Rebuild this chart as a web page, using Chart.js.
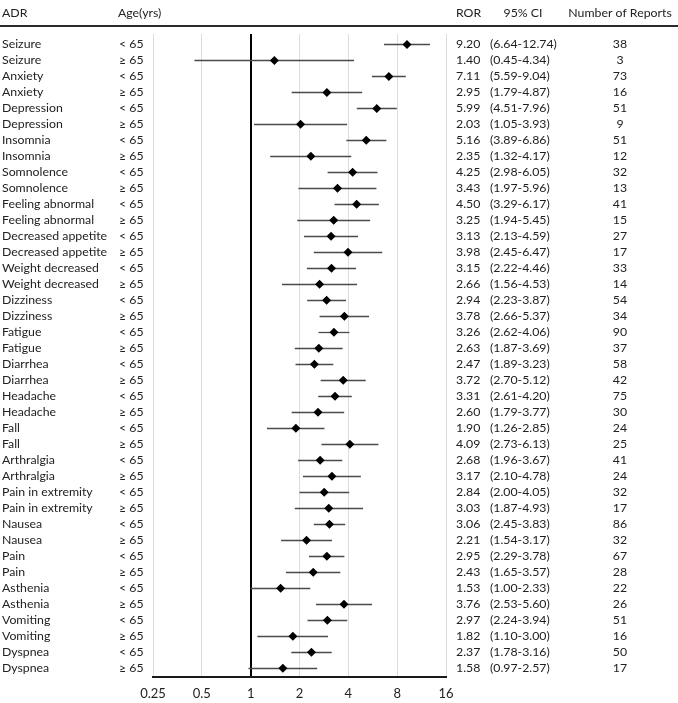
<!DOCTYPE html>
<html>
<head>
<meta charset="utf-8">
<script src="https://cdn.jsdelivr.net/npm/chart.js@4/dist/chart.umd.min.js"></script>
<style>
  html, body { margin: 0; padding: 0; background: #ffffff; }
  #wrap { width: 678px; height: 703px; position: relative; }
</style>
</head>
<body>
<div id="wrap"><canvas id="c" width="678" height="703"></canvas></div>
<script>
const adr = ["Seizure","Seizure","Anxiety","Anxiety","Depression","Depression","Insomnia","Insomnia",
  "Somnolence","Somnolence","Feeling abnormal","Feeling abnormal","Decreased appetite","Decreased appetite",
  "Weight decreased","Weight decreased","Dizziness","Dizziness","Fatigue","Fatigue","Diarrhea","Diarrhea",
  "Headache","Headache","Fall","Fall","Arthralgia","Arthralgia","Pain in extremity","Pain in extremity",
  "Nausea","Nausea","Pain","Pain","Asthenia","Asthenia","Vomiting","Vomiting","Dyspnea","Dyspnea"];
const ageGroups = ["< 65","≥ 65"];
const ror = [9.20,1.40,7.11,2.95,5.99,2.03,5.16,2.35,4.25,3.43,4.50,3.25,3.13,3.98,3.15,2.66,2.94,3.78,3.26,2.63,
  2.47,3.72,3.31,2.60,1.90,4.09,2.68,3.17,2.84,3.03,3.06,2.21,2.95,2.43,1.53,3.76,2.97,1.82,2.37,1.58];
const ciLow = [6.64,0.45,5.59,1.79,4.51,1.05,3.89,1.32,2.98,1.97,3.29,1.94,2.13,2.45,2.22,1.56,2.23,2.66,2.62,1.87,
  1.89,2.70,2.61,1.79,1.26,2.73,1.96,2.10,2.00,1.87,2.45,1.54,2.29,1.65,1.00,2.53,2.24,1.10,1.78,0.97];
const ciHigh = [12.74,4.34,9.04,4.87,7.96,3.93,6.86,4.17,6.05,5.96,6.17,5.45,4.59,6.47,4.46,4.53,3.87,5.37,4.06,3.69,
  3.23,5.12,4.20,3.77,2.85,6.13,3.67,4.78,4.05,4.93,3.83,3.17,3.78,3.57,2.33,5.60,3.94,3.00,3.16,2.57];
const reports = [38,3,73,16,51,9,51,12,32,13,41,15,27,17,33,14,54,34,90,37,58,42,75,30,24,25,41,24,32,17,86,32,67,28,22,26,51,16,50,17];
const xTicks = [0.25,0.5,1,2,4,8,16];
const headers = ["ADR","Age(yrs)","ROR","95% CI","Number of Reports"];

const FONT = "Lato, 'Open Sans', sans-serif";
const FSIZE = 12.3;
const TXT = "#222222";

const points = ror.map((v,i)=>({x:v, y:i}));

const tablePlugin = {
  id: 'tablePlugin',
  beforeDatasetsDraw(chart) {
    const ctx = chart.ctx, xs = chart.scales.x, ys = chart.scales.y;
    ctx.save();
    ctx.strokeStyle = '#4a4a4a';
    ctx.lineWidth = 1.3;
    for (let i = 0; i < ror.length; i++) {
      const y = Math.round(ys.getPixelForValue(i)) + 0.5;
      ctx.beginPath();
      ctx.moveTo(xs.getPixelForValue(ciLow[i]), y);
      ctx.lineTo(xs.getPixelForValue(ciHigh[i]), y);
      ctx.stroke();
    }
    ctx.restore();
  },
  afterDraw(chart) {
    const ctx = chart.ctx, ys = chart.scales.y;
    ctx.save();
    ctx.font = FSIZE + "px " + FONT;
    ctx.fillStyle = TXT;
    ctx.textBaseline = 'middle';
    const hy = 13;
    ctx.textAlign = 'left';
    ctx.fillText(headers[0], 2, hy);
    ctx.fillText(headers[1], 118, hy);
    ctx.fillText(headers[2], 456, hy);
    ctx.textAlign = 'center';
    ctx.fillText(headers[3], 523, hy);
    ctx.fillText(headers[4], 620, hy);
    ctx.strokeStyle = '#2a2a2a';
    ctx.lineWidth = 2;
    ctx.beginPath();
    ctx.moveTo(0, 26);
    ctx.lineTo(678, 26);
    ctx.stroke();
    for (let i = 0; i < ror.length; i++) {
      const y = ys.getPixelForValue(i);
      ctx.textAlign = 'left';
      ctx.fillText(adr[i], 2, y);
      ctx.fillText(ageGroups[i % 2], 119, y);
      ctx.fillText(ror[i].toFixed(2), 456, y);
      ctx.fillText('(' + ciLow[i].toFixed(2) + '-' + ciHigh[i].toFixed(2) + ')', 490, y);
      ctx.textAlign = 'center';
      ctx.fillText(String(reports[i]), 620, y);
    }
    ctx.restore();
  }
};

new Chart(document.getElementById('c'), {
  type: 'scatter',
  data: {
    datasets: [{
      data: points,
      pointStyle: 'rectRot',
      pointRadius: 4.5,
      pointHoverRadius: 4.5,
      backgroundColor: '#000',
      borderColor: '#000',
      borderWidth: 0
    }]
  },
  plugins: [tablePlugin],
  options: {
    responsive: false,
    animation: false,
    devicePixelRatio: 1,
    layout: { autoPadding: false, padding: { left: 153, right: 232, top: 34, bottom: 0 } },
    plugins: { legend: { display: false }, tooltip: { enabled: false } },
    scales: {
      x: {
        type: 'logarithmic',
        min: 0.25,
        max: 16,
        afterBuildTicks(scale) { scale.ticks = xTicks.map(v => ({ value: v })); },
        afterFit(scale) { scale.height = 26; },
        ticks: {
          font: { family: FONT, size: 13 },
          color: TXT,
          padding: 9,
          autoSkip: false,
          maxRotation: 0,
          callback: (v) => String(v)
        },
        grid: {
          drawTicks: false,
          color: (c) => (c.tick && c.tick.value === 1) ? '#000' : '#dcdcdc',
          lineWidth: (c) => (c.tick && c.tick.value === 1) ? 2 : 1
        },
        border: { display: true, color: '#1a1a1a', width: 2 }
      },
      y: {
        type: 'linear',
        reverse: true,
        min: -0.65,
        max: 39.55,
        display: false
      }
    }
  }
});
</script>
</body>
</html>
